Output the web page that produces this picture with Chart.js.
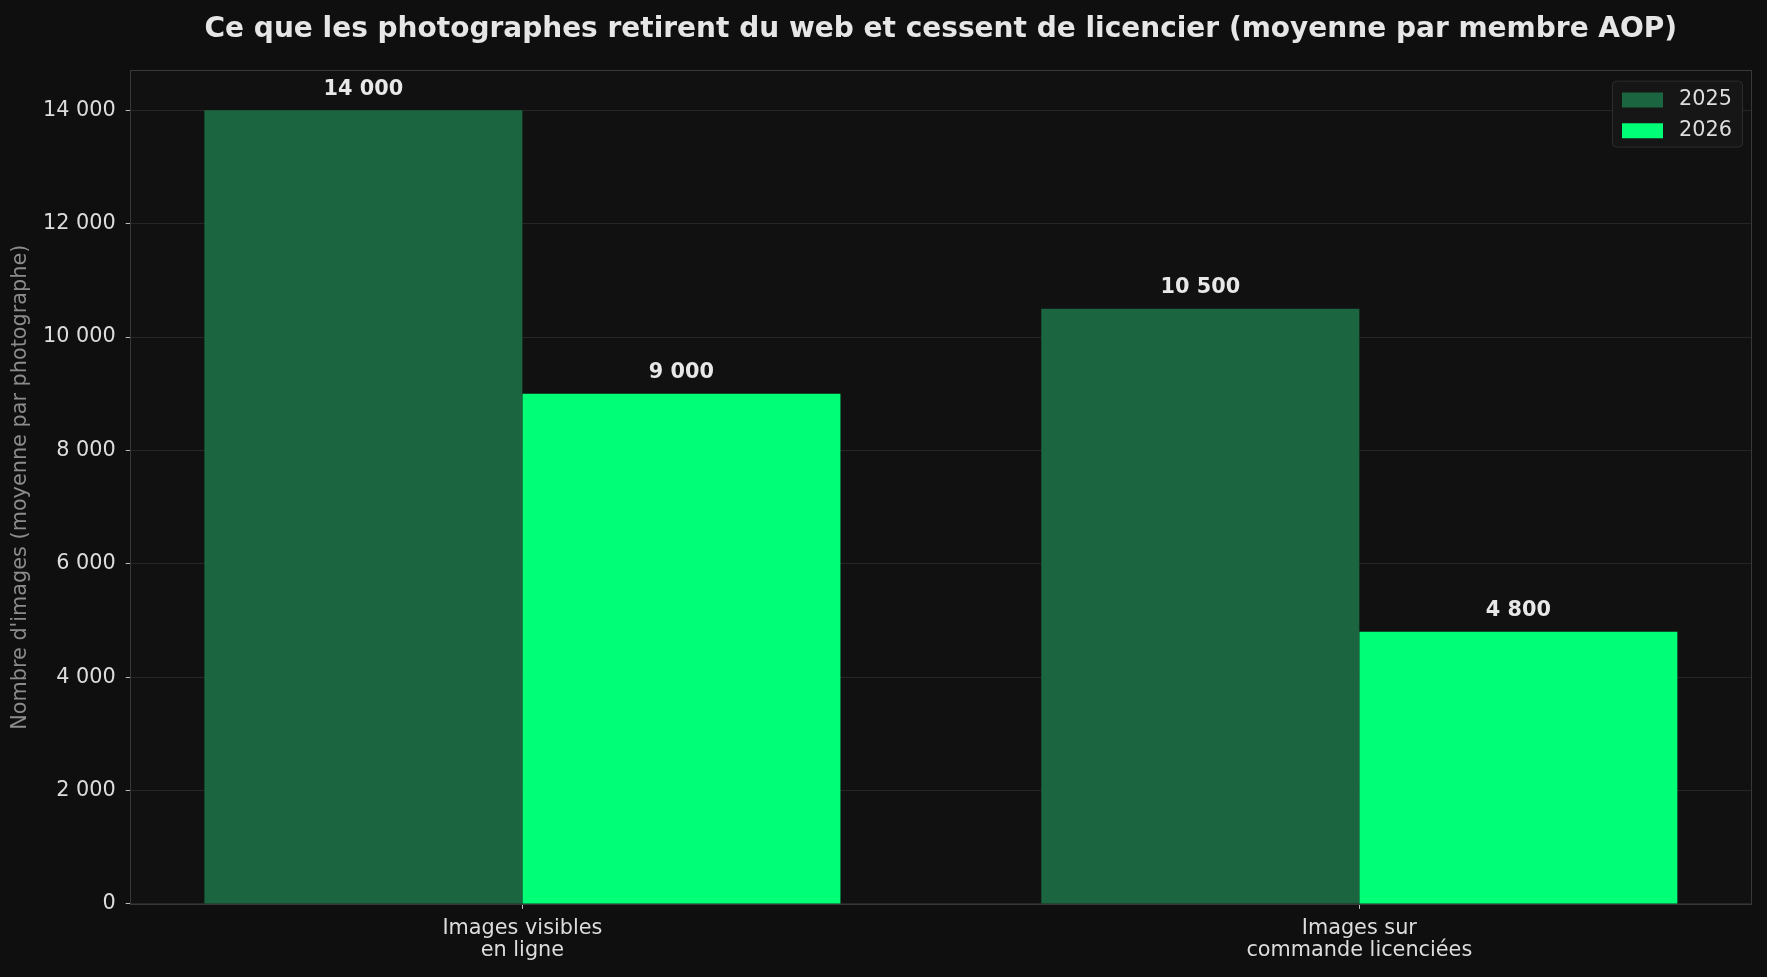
<!DOCTYPE html>
<html lang="fr">
<head>
<meta charset="utf-8">
<title>Ce que les photographes retirent du web</title>
<script src="https://cdn.jsdelivr.net/npm/chart.js@4.4.1/dist/chart.umd.min.js"></script>
<style>
  html, body { margin: 0; padding: 0; background: #0f0f0f; }
  #graph { display: block; }
</style>
</head>
<body>
<canvas id="graph" width="1767" height="977"></canvas>
<script>
// données
const categories = [['Images visibles', 'en ligne'], ['Images sur', 'commande licenciées']];
const series_labels = ['2025', '2026'];
const values_2025 = [14000, 10500];
const values_2026 = [9000, 4800];
const y_ticks = [0, 2000, 4000, 6000, 8000, 10000, 12000, 14000];
const y_max = 14700;
const x_range = [-0.468, 1.468];

const colors = ['#1b6641', '#00ff77'];
const font_family = "'DejaVu Sans', sans-serif";
const fs = 20.8;

Chart.defaults.font.family = font_family;
Chart.defaults.color = '#dddddd';

// 14000 -> "14 000"
const fmt = v => String(v).replace(/\B(?=(\d{3})+(?!\d))/g, ' ');
const make_points = vals => vals.map((v, i) => ({x: i, y: v}));

const bg_plugin = {
  id: 'bg_plugin',
  beforeDraw(chart) {
    const ctx = chart.ctx, ca = chart.chartArea;
    ctx.save();
    ctx.fillStyle = '#0f0f0f';
    ctx.fillRect(0, 0, chart.width, chart.height);
    ctx.fillStyle = '#111111';
    ctx.fillRect(ca.left, ca.top, ca.right - ca.left, ca.bottom - ca.top);
    ctx.restore();
  },
  beforeDatasetsDraw(chart) {
    const ctx = chart.ctx, ca = chart.chartArea;
    ctx.save();
    ctx.strokeStyle = '#383838';
    ctx.lineWidth = 1;
    ctx.strokeRect(Math.round(ca.left) - 0.5, Math.round(ca.top) - 0.5,
      Math.round(ca.right - ca.left) + 1, Math.round(ca.bottom - ca.top) + 1);
    ctx.restore();
  }
};

function draw_legend_box(chart) {
  const ctx = chart.ctx, ca = chart.chartArea;
  const x = ca.right - 139, y = ca.top + 10, w = 130, h = 66, r = 4;
  ctx.save();
  ctx.beginPath();
  ctx.roundRect(x + 0.5, y + 0.5, w, h, r);
  ctx.fillStyle = '#161616';
  ctx.fill();
  ctx.strokeStyle = '#2c2c2c';
  ctx.lineWidth = 1;
  ctx.stroke();
  ctx.restore();
}

// légende dans le coin haut droit de la zone du graphique
const legend_place = {
  id: 'legend_place',
  afterLayout(chart) {
    const lg = chart.legend, ca = chart.chartArea;
    if (!lg) return;
    lg.left = ca.right - 139;
    lg.right = ca.right - 19;
    lg.top = ca.top + 9;
    lg.bottom = lg.top + 100;
    lg.width = lg.right - lg.left;
    lg.height = 100;
    if (!lg._with_bg) {
      const draw = lg.draw;
      lg.draw = function() { draw_legend_box(chart); draw.apply(this, arguments); };
      lg._with_bg = true;
    }
  }
};

const value_labels = {
  id: 'value_labels',
  afterDatasetsDraw(chart) {
    const ctx = chart.ctx;
    ctx.save();
    ctx.font = 'bold ' + fs + 'px ' + font_family;
    ctx.fillStyle = '#e8e8e8';
    ctx.textAlign = 'center';
    ctx.textBaseline = 'middle';
    chart.data.datasets.forEach((ds, di) => {
      chart.getDatasetMeta(di).data.forEach((bar, i) => {
        ctx.fillText(fmt(ds.data[i].y), bar.x, bar.y - 21);
      });
    });
    ctx.restore();
  }
};

const graph = document.getElementById('graph').getContext('2d');

const config_graph = {
  type: 'bar',
  data: {
    datasets: [
      {
        label: series_labels[0],
        data: make_points(values_2025),
        backgroundColor: colors[0],
        borderWidth: 0,
        categoryPercentage: 0.76,
        barPercentage: 1.0
      },
      {
        label: series_labels[1],
        data: make_points(values_2026),
        backgroundColor: colors[1],
        borderWidth: 0,
        categoryPercentage: 0.76,
        barPercentage: 1.0
      }
    ]
  },
  options: {
    responsive: false,
    maintainAspectRatio: false,
    devicePixelRatio: 1,
    animation: false,
    layout: { padding: { left: 0, right: 16, top: 0, bottom: 6 } },
    plugins: {
      title: {
        display: true,
        text: 'Ce que les photographes retirent du web et cessent de licencier (moyenne par membre AOP)',
        color: '#e6e6e6',
        font: { size: 28, weight: 'bold' },
        padding: { top: 13, bottom: 24 },
        fullSize: false
      },
      legend: {
        position: 'chartArea',
        align: 'start',
        labels: {
          boxWidth: 41,
          boxHeight: 15,
          padding: 10,
          color: '#dddddd',
          textAlign: 'right',
          font: { size: fs }
        }
      },
      tooltip: { enabled: false }
    },
    scales: {
      x: {
        type: 'linear',
        min: x_range[0],
        max: x_range[1],
        bounds: 'data',
        offset: false,
        afterBuildTicks: axis => { axis.ticks = categories.map((_, i) => ({value: i})); },
        ticks: {
          callback: v => categories[v],
          color: '#dddddd',
          font: { size: fs, lineHeight: 1.06 },
          padding: 9,
          maxRotation: 0,
          autoSkip: false
        },
        grid: {
          offset: false,
          drawOnChartArea: false,
          drawTicks: true,
          tickLength: 5,
          tickColor: '#bbbbbb'
        },
        border: { display: false }
      },
      y: {
        min: 0,
        max: y_max,
        afterBuildTicks: axis => { axis.ticks = y_ticks.map(v => ({value: v})); },
        ticks: {
          callback: v => fmt(v),
          color: '#dddddd',
          font: { size: fs },
          padding: 10
        },
        grid: {
          color: '#262626',
          tickLength: 5,
          tickColor: '#bbbbbb'
        },
        border: { display: false },
        title: {
          display: true,
          text: "Nombre d'images (moyenne par photographe)",
          color: '#8c8c8c',
          font: { size: fs },
          padding: { top: 8, bottom: 0 }
        }
      }
    }
  },
  plugins: [bg_plugin, legend_place, value_labels]
};

let chart_main = new Chart(graph, config_graph);
</script>
</body>
</html>
